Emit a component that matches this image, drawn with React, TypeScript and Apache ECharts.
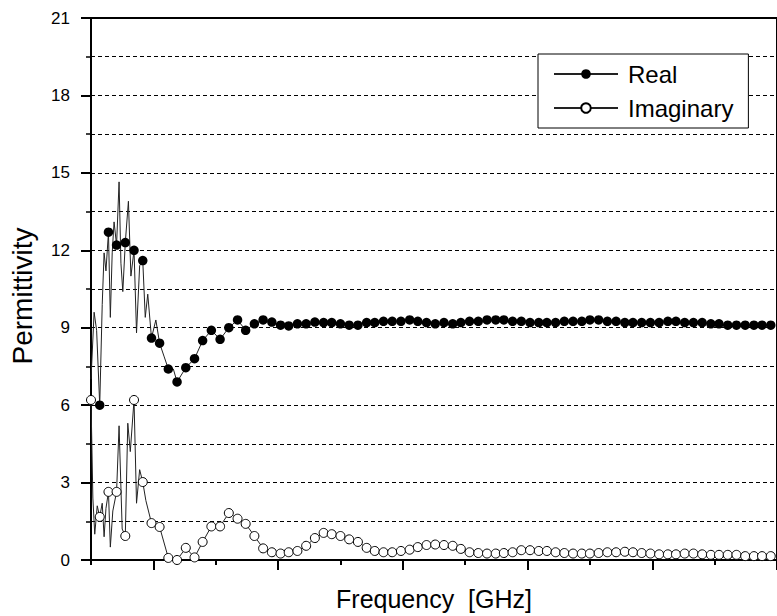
import React, { useEffect, useRef } from "react";
import * as echarts from "echarts";

// Frequency grid of the marker points (x axis units, ticks every 1)
const markerFreq = [
  0, 0.14, 0.28, 0.41, 0.55, 0.69, 0.83, 0.97, 1.1, 1.24, 1.38, 1.52, 1.66, 1.79, 1.93, 2.07,
  2.21, 2.35, 2.48, 2.62, 2.76, 2.9, 3.04, 3.17, 3.31, 3.45, 3.59, 3.73, 3.86, 4.0, 4.14, 4.28,
  4.42, 4.55, 4.69, 4.83, 4.97, 5.11, 5.24, 5.38, 5.52, 5.66, 5.8, 5.93, 6.07, 6.21, 6.35, 6.49,
  6.62, 6.76, 6.9, 7.04, 7.18, 7.31, 7.45, 7.59, 7.73, 7.87, 8.0, 8.14, 8.28, 8.42, 8.56, 8.69,
  8.83, 8.97, 9.11, 9.25, 9.38, 9.52, 9.66, 9.8, 9.94, 10.07, 10.21, 10.35, 10.49, 10.63, 10.76, 10.9,
];

const realMarkers: (number | null)[] = [
  null, 6.0, 12.7, 12.2, 12.3, 12.0, 11.6, 8.6, 8.4, 7.4, 6.9, 7.45, 7.8, 8.5, 8.9, 8.55,
  9.0, 9.3, 8.9, 9.15, 9.3, 9.22, 9.1, 9.07, 9.15, 9.15, 9.22, 9.2, 9.2, 9.15, 9.1, 9.1,
  9.2, 9.2, 9.25, 9.25, 9.25, 9.3, 9.25, 9.2, 9.15, 9.2, 9.15, 9.2, 9.25, 9.25, 9.3, 9.3,
  9.3, 9.25, 9.25, 9.2, 9.2, 9.2, 9.2, 9.25, 9.25, 9.25, 9.3, 9.3, 9.25, 9.25, 9.2, 9.2,
  9.2, 9.2, 9.2, 9.25, 9.25, 9.2, 9.2, 9.2, 9.15, 9.15, 9.1, 9.1, 9.1, 9.1, 9.1, 9.1,
];

const imagMarkers = [
  6.2, 1.67, 2.64, 2.64, 0.93, 6.2, 3.02, 1.43, 1.28, 0.08, 0.0, 0.47, 0.1, 0.7, 1.3, 1.3,
  1.82, 1.6, 1.4, 0.93, 0.45, 0.3, 0.25, 0.3, 0.35, 0.55, 0.85, 1.05, 1.0, 0.93, 0.8, 0.7,
  0.47, 0.35, 0.3, 0.3, 0.35, 0.4, 0.5, 0.58, 0.6, 0.58, 0.55, 0.43, 0.3, 0.27, 0.25, 0.25,
  0.27, 0.3, 0.38, 0.38, 0.35, 0.35, 0.3, 0.27, 0.25, 0.25, 0.25, 0.27, 0.3, 0.3, 0.32, 0.3,
  0.27, 0.25, 0.22, 0.22, 0.22, 0.25, 0.25, 0.22, 0.2, 0.2, 0.2, 0.2, 0.15, 0.15, 0.15, 0.15,
];

// Noisy raw samples between the markers at low frequency (line only)
const realRawFreq = [0.0, 0.05, 0.09, 0.18, 0.21, 0.24, 0.31, 0.34, 0.37, 0.45, 0.48, 0.51, 0.6, 0.64, 0.73, 0.78, 0.87, 0.91, 1.04, 1.17, 1.32];
const realRawVals = [7.0, 9.6, 8.9, 9.9, 11.9, 11.2, 9.4, 11.9, 13.1, 14.65, 11.5, 10.4, 13.9, 11.0, 8.8, 11.4, 9.4, 10.3, 9.3, 7.9, 7.4];

const imagRawFreq = [0.03, 0.06, 0.1, 0.18, 0.21, 0.24, 0.31, 0.35, 0.45, 0.5, 0.59, 0.63, 0.73, 0.78, 0.88];
const imagRawVals = [2.4, 1.0, 2.1, 2.2, 0.9, 2.0, 0.5, 1.9, 5.2, 1.2, 5.3, 4.2, 2.2, 3.5, 2.3];

const yTickInterval = 3;
const legendNames = ["Real", "Imaginary"];
const xTitle = "Frequency  [GHz]";
const yTitle = "Permittivity";

const FONT = 'Arial, "Liberation Sans", sans-serif';

function buildData(markers: (number | null)[], rawF: number[], rawV: number[]) {
  const pts: { x: number; y: number; m: boolean }[] = [];
  markers.forEach((v, i) => {
    if (v !== null) pts.push({ x: markerFreq[i], y: v, m: true });
  });
  rawF.forEach((f, i) => pts.push({ x: f, y: rawV[i], m: false }));
  pts.sort((a, b) => a.x - b.x);
  return pts.map((p) => (p.m ? { value: [p.x, p.y] } : { value: [p.x, p.y], symbol: "none" }));
}

export default function App() {
  const ref = useRef<HTMLDivElement>(null);
  useEffect(() => {
    const chart = echarts.init(ref.current!, null, { renderer: "svg" });
    const dash = [4, 3];
    const option: any = {
      animation: false,
      backgroundColor: "#fff",
      textStyle: { fontFamily: FONT },
      grid: {
        left: 89,
        right: -3,
        top: 18,
        bottom: 56,
        show: true,
        borderColor: "#000",
        borderWidth: 2,
        backgroundColor: "transparent",
      },
      legend: {
        data: legendNames,
        orient: "vertical",
        left: 538,
        top: 54,
        padding: [8, 15, 8, 15],
        borderColor: "#000",
        borderWidth: 1,
        borderRadius: 0,
        backgroundColor: "#fff",
        itemWidth: 64,
        itemHeight: 12,
        itemGap: 10,
        textStyle: { fontSize: 24, color: "#000", fontFamily: FONT, padding: [0, 0, 0, 5] },
      },
      xAxis: [
        {
          type: "value",
          min: 0,
          max: 11,
          interval: 1,
          position: "bottom",
          axisLine: { show: true, onZero: false, lineStyle: { color: "#000", width: 2 } },
          axisTick: { show: true, customValues: [1, 3, 5, 7, 9, 11], length: 10, lineStyle: { color: "#000", width: 2 } },
          axisLabel: { show: false },
          splitLine: { show: false },
          name: xTitle,
          nameLocation: "middle",
          nameGap: 26,
          nameTextStyle: { fontSize: 25, color: "#000", fontFamily: FONT },
        },
        {
          type: "value",
          min: 0,
          max: 11,
          interval: 1,
          position: "bottom",
          axisLine: { show: false, onZero: false },
          axisTick: { show: true, length: 5, lineStyle: { color: "#000", width: 2 } },
          axisLabel: { show: false },
          splitLine: { show: false },
        },
      ],
      yAxis: {
        type: "value",
        min: 0,
        max: 21,
        interval: yTickInterval,
        axisLine: { show: true, lineStyle: { color: "#000", width: 2 } },
        axisTick: { show: true, length: 10, lineStyle: { color: "#000", width: 2 } },
        minorTick: { show: true, splitNumber: 2, length: 5, lineStyle: { color: "#000", width: 1.5 } },
        axisLabel: { fontSize: 17, color: "#000", margin: 21, fontFamily: FONT },
        splitLine: { show: true, lineStyle: { color: "#000", width: 1, type: dash } },
        minorSplitLine: { show: true, lineStyle: { color: "#000", width: 1, type: dash } },
        name: yTitle,
        nameLocation: "middle",
        nameGap: 55,
        nameTextStyle: { fontSize: 28, color: "#000", fontFamily: FONT, padding: [0, 14, 0, 0] },
      },
      series: [
        {
          name: "Real",
          type: "line",
          xAxisIndex: 0,
          data: buildData(realMarkers, realRawFreq, realRawVals),
          symbol: "circle",
          symbolSize: 9.5,
          showSymbol: true,
          lineStyle: { color: "#222", width: 1 },
          itemStyle: { color: "#000", borderColor: "#000", borderWidth: 0 },
          z: 3,
        },
        {
          name: "Imaginary",
          type: "line",
          xAxisIndex: 0,
          data: buildData(imagMarkers, imagRawFreq, imagRawVals),
          symbol: "circle",
          symbolSize: 9,
          showSymbol: true,
          lineStyle: { color: "#222", width: 1 },
          itemStyle: { color: "#fff", borderColor: "#000", borderWidth: 1 },
          z: 3,
        },
      ],
    };
    chart.setOption(option);
    return () => chart.dispose();
  }, []);
  return <div ref={ref} style={{ position: "fixed", left: 0, top: 0, width: 777, height: 616 }} />;
}
